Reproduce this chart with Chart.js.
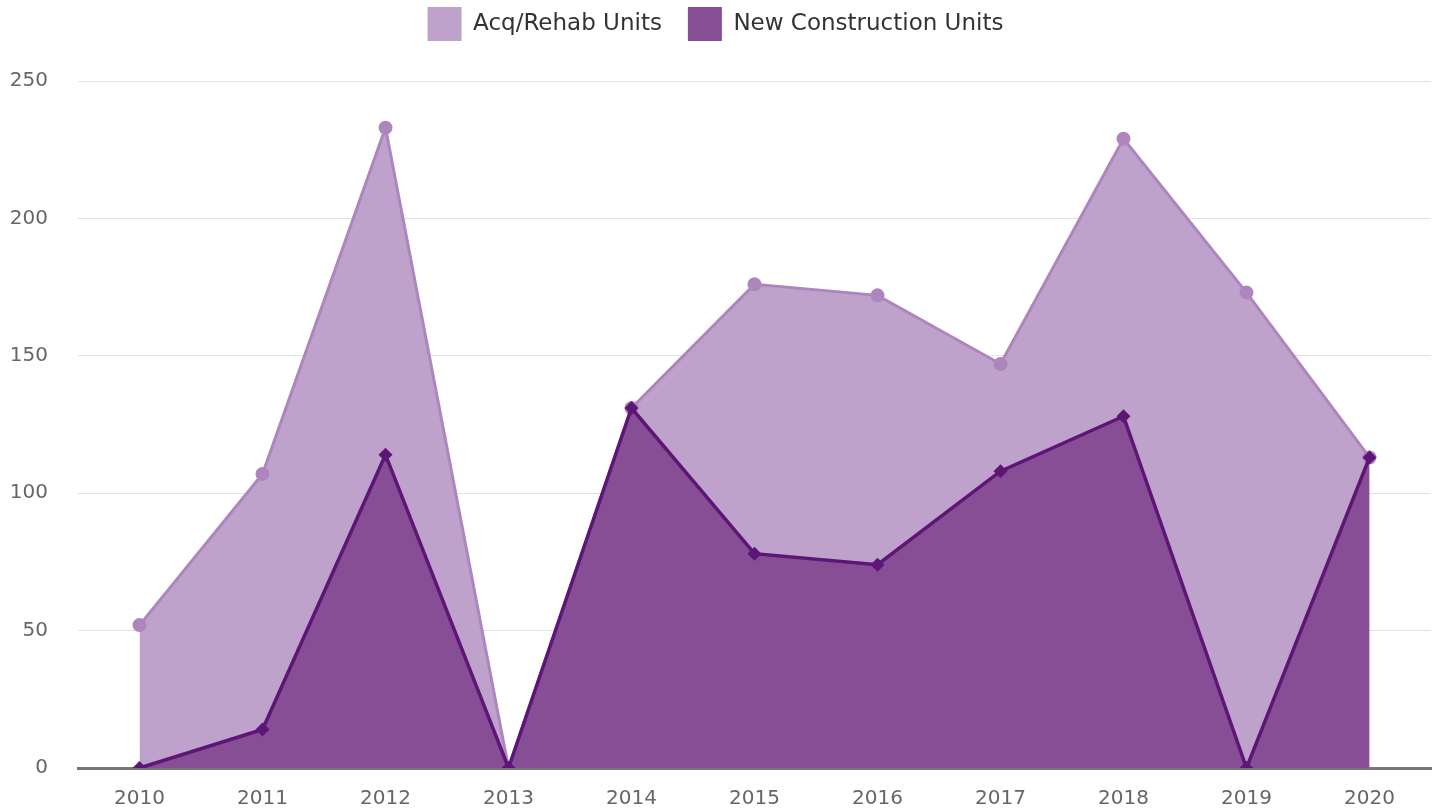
<!DOCTYPE html>
<html>
<head>
<meta charset="utf-8">
<script src="https://cdn.jsdelivr.net/npm/chart.js"></script>
<style>
  html, body { margin: 0; padding: 0; background: #fff; }
  #wrap { width: 1439px; height: 810px; }
</style>
</head>
<body>
<div id="wrap"><canvas id="grafico"></canvas></div>
<script>
// dados
const anos = ['2010', '2011', '2012', '2013', '2014', '2015', '2016', '2017', '2018', '2019', '2020'];
const acqRehab = [52, 107, 233, 0, 131, 176, 172, 147, 229, 173, 113];
const novaConstrucao = [0, 14, 114, 0, 131, 78, 74, 108, 128, 0, 113];
const ticksY = [0, 50, 100, 150, 200, 250];

const fonte = "'DejaVu Sans', sans-serif";

// espaço extra entre a legenda e o gráfico
const margemLegenda = {
  id: 'margemLegenda',
  beforeInit(chart) {
    const fitOriginal = chart.legend.fit;
    chart.legend.fit = function () {
      fitOriginal.bind(chart.legend)();
      this.height += 30;
    };
  }
};

const ctx = document.getElementById('grafico').getContext('2d');
new Chart(ctx, {
  type: 'line',
  data: {
    labels: anos,
    datasets: [
      {
        label: 'Acq/Rehab Units',
        data: acqRehab,
        order: 2,
        fill: 'origin',
        backgroundColor: '#bfa2cb',
        borderColor: '#ad86be',
        borderWidth: 3,
        pointStyle: 'circle',
        pointRadius: 7,
        pointBackgroundColor: '#ad86be',
        pointBorderWidth: 0,
        tension: 0
      },
      {
        label: 'New Construction Units',
        data: novaConstrucao,
        order: 1,
        fill: 'origin',
        backgroundColor: '#874e96',
        borderColor: '#5e1676',
        borderWidth: 3.5,
        pointStyle: 'rectRot',
        pointRadius: 7,
        pointBackgroundColor: '#5e1676',
        pointBorderWidth: 0,
        tension: 0
      }
    ]
  },
  options: {
    responsive: true,
    maintainAspectRatio: false,
    animation: false,
    layout: { padding: { left: 0, right: 8, top: -19, bottom: 0 } },
    plugins: {
      legend: {
        position: 'top',
        labels: {
          boxWidth: 34,
          boxHeight: 34,
          padding: 26,
          color: '#333',
          font: { family: fonte, size: 23 },
          generateLabels: (chart) => chart.data.datasets.map((ds, i) => ({
            text: ds.label,
            fillStyle: ds.backgroundColor,
            strokeStyle: ds.backgroundColor,
            lineWidth: 0,
            hidden: !chart.isDatasetVisible(i),
            datasetIndex: i,
            fontColor: '#333'
          }))
        }
      },
      tooltip: { enabled: true }
    },
    scales: {
      x: {
        offset: true,
        grid: { display: false },
        border: { display: true, color: '#777', width: 3 },
        ticks: { color: '#666', font: { family: fonte, size: 20 }, padding: 11 },
        afterFit: (axis) => { axis.height = 42; }
      },
      y: {
        min: 0,
        max: 250,
        afterBuildTicks: (axis) => { axis.ticks = ticksY.map(v => ({ value: v })); },
        grid: { color: '#e2e2e2', lineWidth: 1, drawTicks: false },
        border: { display: false },
        ticks: { color: '#666', font: { family: fonte, size: 20 }, padding: 30 },
        afterFit: (axis) => { axis.width = 78; }
      }
    }
  },
  plugins: [margemLegenda]
});
</script>
</body>
</html>
